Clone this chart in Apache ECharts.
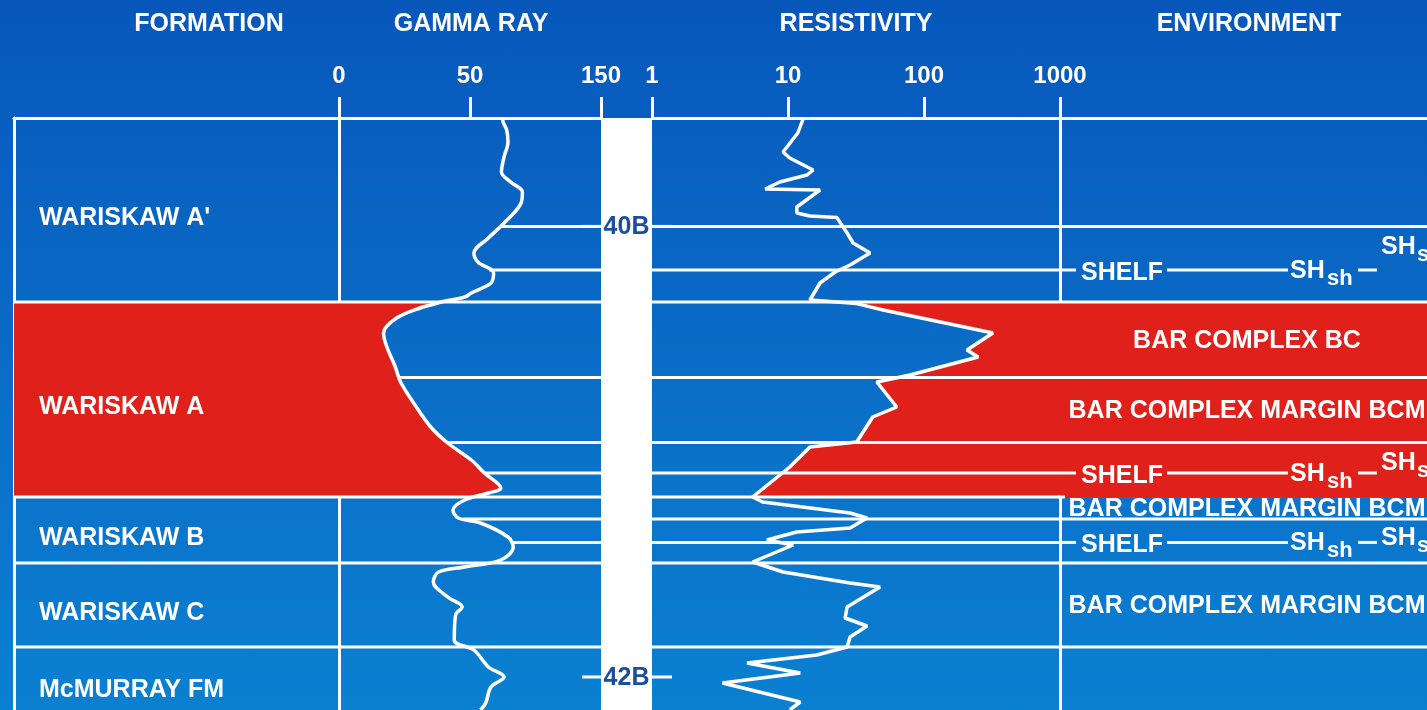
<!DOCTYPE html>
<html>
<head>
<meta charset="utf-8">
<script src="https://cdn.jsdelivr.net/npm/echarts@6/dist/echarts.min.js"></script>
<style>
  html, body { margin: 0; padding: 0; overflow: hidden; }
  #chart { width: 1427px; height: 710px; background: linear-gradient(180deg, #0757bb 0%, #0a6cc6 50%, #0a80d1 100%); }
</style>
</head>
<body>
<div id="chart"></div>
<script>
// ---- Formations (depth units, increasing downward) ----
const formationNames = ["WARISKAW A'", 'WARISKAW A', 'WARISKAW B', 'WARISKAW C', 'McMURRAY FM'];
const formationTops  = [0, 46, 94.75, 111.25, 132.25];
const formationBases = [46, 94.75, 111.25, 132.25, 150];
const sandFormation = 'WARISKAW A';

// ---- Depth markers ----
const markerNames  = ['40B', '42B'];
const markerDepths = [27.1, 139.75];

// ---- Log correlation lines inside formations ----
const correlationDepths = [27.1, 38, 64.9, 81.1, 88.75, 100.25, 106.1];

// ---- Gamma ray log (API) ----
const gammaTicks = [0, 50, 150];
const gammaDepths = [0, 0.5, 3, 6, 9.75, 13.5, 16, 18.5, 21.25, 26.25, 30, 33.75, 36, 38.75, 41.25, 43.75, 44.75,
  46, 46.75, 47.25, 50, 53.75, 56.75, 62.25, 66, 71.25, 77.25, 81.25, 85.5, 88.75, 92.5, 93.75, 95.5, 98, 100,
  101.25, 104.75, 107.25, 110.5, 112.25, 113.5, 116, 119.75, 122.25, 124.25, 130.5, 133, 137.25, 139.75, 142.25,
  146.25, 148];
const gammaValues = [75, 75, 78, 79, 76, 74, 81, 90, 89, 76, 64, 53, 56, 68, 66, 51, 48,
  39, 35, 32, 22, 17, 18, 21.5, 23.5, 28.5, 35, 41.5, 51, 61, 73.5, 64, 48, 43.5, 45.5,
  58, 79, 83, 73.5, 48, 38, 36, 41.5, 47, 44.5, 44, 53, 64, 76, 66,
  62, 58];

// ---- Resistivity log (ohm-m) ----
const resistivityTicks = [1, 10, 100, 1000];
const resistivityDepths = [0, 3.75, 8.5, 10, 13, 14.25, 16, 17.75, 18, 22.25, 23.75, 24.5, 24.9, 28.75, 31.25,
  33.75, 36.75, 38.5, 41.25, 45.5, 46, 46.4, 48, 53.75, 58, 59.75, 64.25, 66, 72.25, 74.75, 81, 82.25, 87.25,
  94.75, 96, 98.75, 100, 102.5, 103.5, 105.5, 106.75, 111, 113.5, 116.25, 117.25, 122.25, 125, 127, 129.75,
  132.25, 134.25, 136.25, 138.75, 141.25, 146, 148];
const resistivityValues = [13, 11.8, 9.2, 10.3, 15.3, 13.8, 8.7, 6.8, 17.2, 11.6, 11.6, 14.5, 22.9, 27.2, 30.1,
  40.1, 28.6, 22.2, 17.2, 14.5, 14.5, 32, 50, 321, 207, 250, 79, 45, 63, 42, 32, 14.5, 10.3,
  5.5, 6.5, 28.6, 38.1, 28.6, 11.6, 7.0, 10.9, 5.5, 9.2, 28.6, 47.5, 27.2, 26.3, 38.1, 28.6,
  27.2, 16.3, 5.0, 12.3, 3.3, 12.3, 10.3];

// ---- Depositional environment ----
const envNames = ['BAR COMPLEX BC', 'BAR COMPLEX MARGIN BCM', 'BAR COMPLEX MARGIN BCM', 'BAR COMPLEX MARGIN BCM'];
const envTops  = [46, 64.9, 94.75, 111.25];
const envBases = [64.9, 81.1, 100.25, 132.25];
const envBoundaries = [27.1, 46, 64.9, 81.1, 100.25, 111.25, 132.25];
const shelfDepths = [38, 88.75, 106.1];
const shelfSandDepths = [32.25, 86.25, 105];

// ---- Styling / layout ----
const RED = '#e0201a';
const WHITE = '#ffffff';
const MARKER_BLUE = '#1b4f9e';
const FONT = '"Liberation Sans", Arial, Helvetica, sans-serif';
const BIG = 'bold 25px ' + FONT;
const SUB = 'bold 22px ' + FONT;
const DEPTH_MAX = 148;
const GRID_TOP = 118;
const GRID_H = 592;
const tracks = [
  { left: 14,   width: 325 },  // formation
  { left: 339,  width: 262 },  // gamma ray
  { left: 601,  width: 51 },   // depth markers
  { left: 652,  width: 408 },  // resistivity
  { left: 1060, width: 374 }   // environment
];

const sandIdx = formationNames.indexOf(sandFormation);
const sandTop = formationTops[sandIdx];
const sandBase = formationBases[sandIdx];
const formationBoundaries = formationTops.slice(1);

// piecewise gamma scale: each tick interval occupies one track unit
function gammaTrack(v) {
  for (let i = 1; i < gammaTicks.length; i++) {
    if (v <= gammaTicks[i] || i === gammaTicks.length - 1) {
      return (i - 1) + (v - gammaTicks[i - 1]) / (gammaTicks[i] - gammaTicks[i - 1]);
    }
  }
  return 0;
}
const gammaTrackValues = gammaValues.map(gammaTrack);
const resistivityLog = resistivityValues.map(Math.log10);

function interp(depths, values, d) {
  if (d <= depths[0]) return values[0];
  for (let i = 1; i < depths.length; i++) {
    if (d <= depths[i]) {
      const span = depths[i] - depths[i - 1];
      const t = span === 0 ? 1 : (d - depths[i - 1]) / span;
      return values[i - 1] + t * (values[i] - values[i - 1]);
    }
  }
  return values[values.length - 1];
}

function hLine(api, x0, x1, d, pad0, pad1) {
  const a = api.coord([x0, d]);
  const b = api.coord([x1, d]);
  return { type: 'line', shape: { x1: a[0] + (pad0 || 0), y1: a[1], x2: b[0] + (pad1 || 0), y2: b[1] },
           style: { stroke: WHITE, lineWidth: 3 } };
}
function txt(text, x, y, font, fill, align) {
  return { type: 'text', style: { text, x, y, font, fill: fill || WHITE, align: align || 'left', verticalAlign: 'middle' } };
}

// fill between a curve and a fixed x edge over the sand interval
function sandPolygon(api, depths, xs, toAxis, edge) {
  const pts = [];
  pts.push(api.coord([toAxis(interp(depths, xs, sandTop)), sandTop]));
  for (let i = 0; i < depths.length; i++) {
    if (depths[i] > sandTop && depths[i] < sandBase) pts.push(api.coord([toAxis(xs[i]), depths[i]]));
  }
  pts.push(api.coord([toAxis(interp(depths, xs, sandBase)), sandBase]));
  pts.push(api.coord([edge, sandBase]));
  pts.push(api.coord([edge, sandTop]));
  return { type: 'polygon', shape: { points: pts }, style: { fill: RED } };
}

const grids = tracks.map(t => ({ left: t.left, width: t.width, top: GRID_TOP, height: GRID_H, outerBoundsMode: 'none', containLabel: false }));

const axisLineWhite = { show: true, onZero: false, lineStyle: { color: WHITE, width: 3 } };
const hiddenTick = { show: false };
const hiddenLabel = { show: false };

const xAxes = [
  { type: 'value', gridIndex: 0, position: 'top', min: 0, max: 1, axisLine: axisLineWhite, axisTick: hiddenTick, axisLabel: hiddenLabel, splitLine: { show: false } },
  { type: 'value', gridIndex: 1, position: 'top', min: 0, max: gammaTicks.length - 1, interval: 1,
    axisLine: axisLineWhite,
    axisTick: { show: true, inside: false, length: 21, lineStyle: { color: WHITE, width: 3 } },
    axisLabel: { show: true, margin: 30, color: WHITE, fontSize: 24, fontWeight: 'bold', fontFamily: FONT,
                 showMinLabel: true, showMaxLabel: true,
                 formatter: v => String(gammaTicks[Math.round(v)]) },
    splitLine: { show: false } },
  { type: 'value', gridIndex: 2, position: 'top', min: 0, max: 1, axisLine: { show: false }, axisTick: hiddenTick, axisLabel: hiddenLabel, splitLine: { show: false } },
  { type: 'log', logBase: 10, gridIndex: 3, position: 'top', min: resistivityTicks[0], max: resistivityTicks[resistivityTicks.length - 1],
    axisLine: axisLineWhite,
    axisTick: { show: true, inside: false, length: 21, lineStyle: { color: WHITE, width: 3 } },
    axisLabel: { show: true, margin: 30, color: WHITE, fontSize: 24, fontWeight: 'bold', fontFamily: FONT,
                 showMinLabel: true, showMaxLabel: true,
                 formatter: v => String(Math.round(v)) },
    splitLine: { show: false } },
  { type: 'value', gridIndex: 4, position: 'top', min: 0, max: 1, axisLine: axisLineWhite, axisTick: hiddenTick, axisLabel: hiddenLabel, splitLine: { show: false } }
];

const yAxes = tracks.map((t, i) => ({
  type: 'value', gridIndex: i, min: 0, max: DEPTH_MAX, inverse: true,
  axisLine: (i === 0 || i === 1 || i === 4) ? axisLineWhite : { show: false },
  axisTick: hiddenTick, axisLabel: hiddenLabel, splitLine: { show: false }
}));

const series = [
  // formation column
  {
    type: 'custom', xAxisIndex: 0, yAxisIndex: 0, z: 2, silent: true,
    data: formationNames.map((n, i) => [0, formationTops[i]]),
    renderItem(params, api) {
      const i = params.dataIndex;
      const p0 = api.coord([0, formationTops[i]]);
      const p1 = api.coord([1, formationBases[i]]);
      const children = [];
      if (formationNames[i] === sandFormation) {
        children.push({ type: 'rect', shape: { x: p0[0], y: p0[1], width: p1[0] - p0[0], height: p1[1] - p0[1] }, style: { fill: RED } });
      }
      if (i > 0) children.push(hLine(api, 0, 1, formationTops[i]));
      children.push(txt(formationNames[i], p0[0] + 25, (p0[1] + p1[1]) / 2 + 8, BIG));
      return { type: 'group', children };
    }
  },
  // gamma ray: sand shading between zero line and curve
  {
    type: 'custom', xAxisIndex: 1, yAxisIndex: 1, z: 1, silent: true, data: [[0, 0]],
    renderItem(params, api) { return sandPolygon(api, gammaDepths, gammaTrackValues, v => v, 0); }
  },
  // gamma ray: bed lines
  {
    type: 'custom', xAxisIndex: 1, yAxisIndex: 1, z: 2, silent: true, data: [[0, 0]],
    renderItem(params, api) {
      const children = formationBoundaries.map(d => hLine(api, 0, gammaTicks.length - 1, d));
      correlationDepths.forEach(d => children.push(hLine(api, interp(gammaDepths, gammaTrackValues, d), gammaTicks.length - 1, d)));
      return { type: 'group', children };
    }
  },
  // gamma ray curve
  {
    type: 'line', xAxisIndex: 1, yAxisIndex: 1, z: 5, silent: true, symbol: 'none', smooth: 0.35,
    lineStyle: { color: WHITE, width: 3.5 },
    data: gammaDepths.map((d, i) => [gammaTrackValues[i], d])
  },
  // depth marker column
  {
    type: 'custom', xAxisIndex: 2, yAxisIndex: 2, z: 6, silent: true, data: [[0, 0]],
    renderItem(params, api) {
      const a = api.coord([0, 0]);
      const b = api.coord([1, DEPTH_MAX]);
      const children = [{ type: 'rect', shape: { x: a[0], y: a[1], width: b[0] - a[0], height: b[1] - a[1] + 2 }, style: { fill: WHITE } }];
      markerNames.forEach((m, i) => {
        const d = markerDepths[i];
        children.push(hLine(api, 0, 0, d, -19, 0));
        children.push(hLine(api, 1, 1, d, 0, 20));
        const p = api.coord([0.5, d]);
        children.push(txt(m, p[0], p[1] + 1, BIG, MARKER_BLUE, 'center'));
      });
      return { type: 'group', children };
    }
  },
  // resistivity: sand shading between curve and right edge
  {
    type: 'custom', xAxisIndex: 3, yAxisIndex: 3, z: 1, silent: true, data: [[1, 0]],
    renderItem(params, api) {
      return sandPolygon(api, resistivityDepths, resistivityLog, v => Math.pow(10, v), resistivityTicks[resistivityTicks.length - 1]);
    }
  },
  // resistivity: bed lines
  {
    type: 'custom', xAxisIndex: 3, yAxisIndex: 3, z: 2, silent: true, data: [[1, 0]],
    renderItem(params, api) {
      const lo = resistivityTicks[0], hi = resistivityTicks[resistivityTicks.length - 1];
      const children = formationBoundaries.concat(correlationDepths).map(d => hLine(api, lo, hi, d));
      return { type: 'group', children };
    }
  },
  // resistivity curve
  {
    type: 'line', xAxisIndex: 3, yAxisIndex: 3, z: 5, silent: true, symbol: 'none',
    lineStyle: { color: WHITE, width: 3.5 },
    data: resistivityDepths.map((d, i) => [resistivityValues[i], d])
  },
  // environment column
  {
    type: 'custom', xAxisIndex: 4, yAxisIndex: 4, z: 2, silent: true, data: [[0, 0]],
    renderItem(params, api) {
      const s0 = api.coord([0, sandTop]);
      const s1 = api.coord([1, sandBase]);
      const children = [{ type: 'rect', shape: { x: s0[0], y: s0[1], width: s1[0] - s0[0], height: s1[1] - s0[1] }, style: { fill: RED } }];
      envBoundaries.forEach(d => children.push(hLine(api, 0, 1, d)));
      children.push(hLine(api, 0, 0, sandBase, -2, 5));
      envNames.forEach((n, i) => {
        const p = api.coord([0.5, (envTops[i] + envBases[i]) / 2]);
        children.push(txt(n, p[0], p[1] + 1, BIG, WHITE, 'center'));
      });
      shelfDepths.forEach((d, i) => {
        const p = api.coord([0, d]);
        const x = p[0], y = p[1];
        const yUp = api.coord([0, shelfSandDepths[i]])[1];
        children.push(hLine(api, 0, 0, d, 0, 16));
        children.push(txt('SHELF', x + 21, y + 3, BIG));
        children.push(hLine(api, 0, 0, d, 107, 228));
        children.push(txt('SH', x + 230, y + 1, BIG));
        children.push(txt('sh', x + 267, y + 9, SUB));
        children.push(hLine(api, 0, 0, d, 298, 317));
        children.push(txt('SH', x + 321, yUp, BIG));
        children.push(txt('s', x + 357, yUp + 8, SUB));
      });
      return { type: 'group', children };
    }
  }
];

const headers = [['FORMATION', 209], ['GAMMA RAY', 471], ['RESISTIVITY', 856], ['ENVIRONMENT', 1249]];

const chart = echarts.init(document.getElementById('chart'), null, { renderer: 'canvas' });
chart.setOption({
  animation: false,
  backgroundColor: 'transparent',
  grid: grids,
  xAxis: xAxes,
  yAxis: yAxes,
  series,
  graphic: headers.map(h => ({
    type: 'text', x: h[1], y: 24, silent: true,
    style: { text: h[0], fill: WHITE, font: BIG, align: 'center', verticalAlign: 'middle' }
  }))
});
</script>
</body>
</html>
